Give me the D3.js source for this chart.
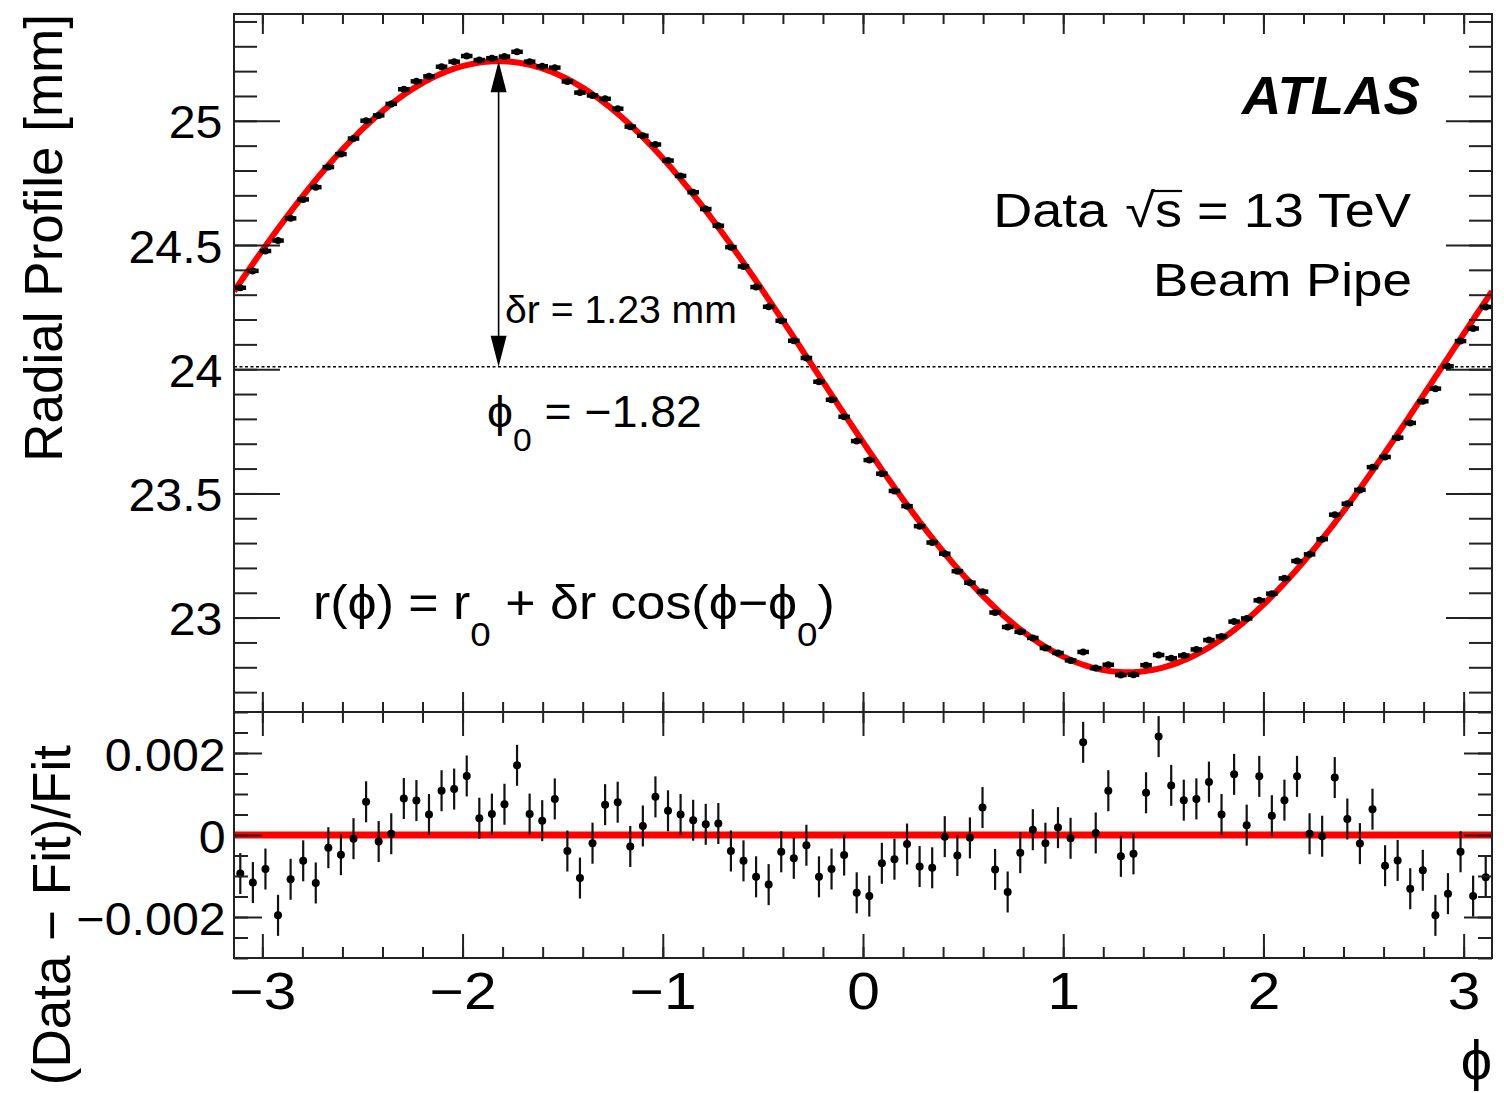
<!DOCTYPE html>
<html>
<head>
<meta charset="utf-8">
<script src="https://cdn.jsdelivr.net/npm/d3@7"></script>
<style>
  html, body { margin: 0; padding: 0; background: #fff; }
  svg { display: block; font-family: "Liberation Sans", Arial, Helvetica, sans-serif; }
</style>
</head>
<body>
<div id="chart"></div>
<script>
// (Data - Fit)/Fit per phi bin (100 bins over [-pi, pi])
const residuals = [
  -0.00094, -0.00116, -0.00083, -0.00196, -0.00108, -0.00063, -0.00117, -0.00031, -0.00048, -0.00009,
   0.00081, -0.00016,  0.00003,  0.00089,  0.00084,  0.00050,  0.00108,  0.00112,  0.00144,  0.00041,
   0.00051,  0.00075,  0.00170,  0.00051,  0.00035,  0.00088, -0.00039, -0.00105, -0.00020,  0.00074,
   0.00080, -0.00028,  0.00022,  0.00093,  0.00059,  0.00050,  0.00036,  0.00026,  0.00028, -0.00039,
  -0.00063, -0.00102, -0.00121, -0.00041, -0.00057, -0.00025, -0.00102, -0.00083, -0.00049, -0.00141,
  -0.00149, -0.00069, -0.00059, -0.00022, -0.00077, -0.00080, -0.00004, -0.00050, -0.00007,  0.00067,
  -0.00084, -0.00139, -0.00043,  0.00013, -0.00020,  0.00018, -0.00008,  0.00226,  0.00005,  0.00108,
  -0.00052, -0.00046,  0.00103,  0.00240,  0.00121,  0.00085,  0.00088,  0.00129,  0.00050,  0.00148,
   0.00024,  0.00143,  0.00047,  0.00085,  0.00143,  0.00003, -0.00003,  0.00140,  0.00039, -0.00021,
   0.00063, -0.00075, -0.00062, -0.00131, -0.00086, -0.00196, -0.00143, -0.00041, -0.00149, -0.00103
];
const residualError = 0.0005;

// fit r(phi) = r0 + dr cos(phi - phi0)
const fitR0 = 24.01;
const fitDr = 1.23;
const fitPhi0 = -1.82;

const xTicks = [-3, -2, -1, 0, 1, 2, 3];
const yTopTicks = [23, 23.5, 24, 24.5, 25];
const yBotTicks = [-0.002, 0, 0.002];

const W = 1504, H = 1093;
const frame = { left: 234, right: 1492, top: 14, mid: 712, bottom: 958 };

const svg = d3.select('#chart').append('svg')
    .attr('width', W)
    .attr('height', H);

// scales
const x = d3.scaleLinear().domain([-Math.PI, Math.PI]).range([frame.left, frame.right]);
const yTop = d3.scaleLinear().domain([22.62, 25.43]).range([frame.mid, frame.top]);
const yBot = d3.scaleLinear().domain([-0.003, 0.003]).range([frame.bottom, frame.mid]);

const fit = phi => fitR0 + fitDr * Math.cos(phi - fitPhi0);
const binWidth = 2 * Math.PI / residuals.length;

// profile = Fit * (1 + residual), which is what the lower panel shows
const bins = residuals.map((r, i) => {
    const phi = -Math.PI + (i + 0.5) * binWidth;
    return { phi: phi, res: r, value: fit(phi) * (1 + r) };
});

const minorX = d3.range(-15, 16).map(i => i * 0.2);
const minorTop = d3.range(227, 255).map(i => i / 10);
const minorBot = d3.range(-6, 7).map(i => i * 0.0005);

// clip paths for the two pads
const defs = svg.append('defs');
defs.append('clipPath').attr('id', 'clipTop').append('rect')
    .attr('x', frame.left).attr('y', frame.top)
    .attr('width', frame.right - frame.left).attr('height', frame.mid - frame.top);
defs.append('clipPath').attr('id', 'clipBot').append('rect')
    .attr('x', frame.left).attr('y', frame.mid)
    .attr('width', frame.right - frame.left).attr('height', frame.bottom - frame.mid);

// ---------- top pad ----------
const topG = svg.append('g').attr('clip-path', 'url(#clipTop)');

// dashed line at r0
topG.append('line')
    .attr('x1', frame.left).attr('x2', frame.right)
    .attr('y1', yTop(fitR0)).attr('y2', yTop(fitR0))
    .attr('stroke', '#000').attr('stroke-width', 1.3)
    .attr('stroke-dasharray', '3,2.5');

// fit curve
const curve = d3.range(0, 601).map(i => -Math.PI + i * 2 * Math.PI / 600);
topG.append('path')
    .datum(curve)
    .attr('fill', 'none')
    .attr('stroke', '#ff0000')
    .attr('stroke-width', 6)
    .attr('d', d3.line().x(p => x(p)).y(p => yTop(fit(p))));

// data markers
const marks = topG.append('g').selectAll('g').data(bins).join('g');
marks.append('line')
    .attr('x1', d => x(d.phi - binWidth / 2) + 0.5)
    .attr('x2', d => x(d.phi + binWidth / 2) - 0.5)
    .attr('y1', d => yTop(d.value)).attr('y2', d => yTop(d.value))
    .attr('stroke', '#000').attr('stroke-width', 4.5);
marks.append('circle')
    .attr('cx', d => x(d.phi)).attr('cy', d => yTop(d.value))
    .attr('r', 3.5).attr('fill', '#000');

// arrow for delta r
const arrowX = x(fitPhi0);
const arrowTop = yTop(fitR0 + fitDr);
const arrowBot = yTop(fitR0);
svg.append('line')
    .attr('x1', arrowX).attr('x2', arrowX)
    .attr('y1', arrowTop + 20).attr('y2', arrowBot - 20)
    .attr('stroke', '#000').attr('stroke-width', 1.6);
svg.append('path')
    .attr('d', `M${arrowX},${arrowTop} L${arrowX - 8},${arrowTop + 31} L${arrowX + 8},${arrowTop + 31} Z`)
    .attr('fill', '#000');
svg.append('path')
    .attr('d', `M${arrowX},${arrowBot} L${arrowX - 8},${arrowBot - 31} L${arrowX + 8},${arrowBot - 31} Z`)
    .attr('fill', '#000');

// ---------- bottom pad ----------
const botG = svg.append('g').attr('clip-path', 'url(#clipBot)');

botG.append('line')
    .attr('x1', frame.left).attr('x2', frame.right)
    .attr('y1', yBot(0)).attr('y2', yBot(0))
    .attr('stroke', '#ff0000').attr('stroke-width', 7);

const rmarks = botG.append('g').selectAll('g').data(bins).join('g');
rmarks.append('line')
    .attr('x1', d => x(d.phi)).attr('x2', d => x(d.phi))
    .attr('y1', d => yBot(d.res - residualError))
    .attr('y2', d => yBot(d.res + residualError))
    .attr('stroke', '#111').attr('stroke-width', 2.2);
rmarks.append('circle')
    .attr('cx', d => x(d.phi)).attr('cy', d => yBot(d.res))
    .attr('r', 4).attr('fill', '#000');

// ---------- frames and ticks ----------
function ticks(axisFn, scale, values, size, transform, fmt, pad) {
    const axis = axisFn(scale)
        .tickValues(values)
        .tickSize(-size)
        .tickPadding(pad || 0)
        .tickFormat(fmt || (() => ''));
    const g = svg.append('g').attr('transform', transform).call(axis);
    g.select('.domain').remove();
    g.selectAll('.tick line').attr('stroke', '#222').attr('stroke-width', 2);
    return g;
}

const inTop = v => v > 22.62 && v < 25.43;
const inX = v => v > -Math.PI && v < Math.PI;

// top pad
ticks(d3.axisLeft, yTop, minorTop.filter(inTop), 23, `translate(${frame.left},0)`);
ticks(d3.axisRight, yTop, minorTop.filter(inTop), 23, `translate(${frame.right},0)`);
ticks(d3.axisRight, yTop, yTopTicks, 46, `translate(${frame.right},0)`);
const yTopAxis = ticks(d3.axisLeft, yTop, yTopTicks, 46, `translate(${frame.left},0)`, d => String(d), 11);
ticks(d3.axisTop, x, minorX.filter(inX), 10, `translate(0,${frame.top})`);
ticks(d3.axisTop, x, xTicks, 20, `translate(0,${frame.top})`);
ticks(d3.axisBottom, x, minorX.filter(inX), 10, `translate(0,${frame.mid})`);
ticks(d3.axisBottom, x, xTicks, 20, `translate(0,${frame.mid})`);

// bottom pad
ticks(d3.axisLeft, yBot, minorBot, 14, `translate(${frame.left},0)`);
ticks(d3.axisRight, yBot, minorBot, 14, `translate(${frame.right},0)`);
ticks(d3.axisRight, yBot, yBotTicks, 28, `translate(${frame.right},0)`);
const yBotAxis = ticks(d3.axisLeft, yBot, yBotTicks, 28, `translate(${frame.left},0)`,
    d => d === 0 ? '0' : d3.format('.3f')(d), 8);
ticks(d3.axisTop, x, minorX.filter(inX), 11, `translate(0,${frame.mid})`);
ticks(d3.axisTop, x, xTicks, 24, `translate(0,${frame.mid})`);
ticks(d3.axisBottom, x, minorX.filter(inX), 11, `translate(0,${frame.bottom})`);
const xAxis = ticks(d3.axisBottom, x, xTicks, 24, `translate(0,${frame.bottom})`, d3.format('d'), 15);

[yTopAxis, yBotAxis].forEach(g => {
    g.selectAll('text')
        .attr('font-family', '"Liberation Sans", Arial, sans-serif')
        .attr('font-size', 46).attr('fill', '#000')
        .attr('dy', '0.37em')
        .attr('transform', 'scale(1.05,1)');
});
xAxis.selectAll('text')
    .attr('font-family', '"Liberation Sans", Arial, sans-serif')
    .attr('font-size', 51).attr('fill', '#000')
    .attr('dy', '0.71em')
    .attr('transform', 'scale(1.15,1)');

// frames
[[frame.top, frame.mid], [frame.mid, frame.bottom]].forEach(([t, b]) => {
    svg.append('rect')
        .attr('x', frame.left).attr('y', t)
        .attr('width', frame.right - frame.left).attr('height', b - t)
        .attr('fill', 'none').attr('stroke', '#222').attr('stroke-width', 2);
});

// ---------- texts ----------
function place(px, py, size, anchor) {
    return svg.append('text')
        .attr('transform', `translate(${px},${py})`)
        .attr('font-size', size)
        .attr('text-anchor', anchor || 'start')
        .attr('fill', '#000');
}
// stretch text horizontally to the measured width of the original
function fitWidth(t, w) {
    const bw = t.node().getBBox().width;
    t.attr('transform', `${t.attr('transform')} scale(${w / bw},1)`);
}

const atlas = place(1420, 114, 53, 'end')
    .attr('font-weight', 'bold').attr('font-style', 'italic')
    .text('ATLAS');
fitWidth(atlas, 180);

const energy = place(1411, 227, 48, 'end');
energy.append('tspan').text('Data');
energy.append('tspan').attr('dx', 16).text('√');
energy.append('tspan').text('s');
energy.append('tspan').text(' = 13 TeV');
fitWidth(energy, 418);
// bar of the square root over "s" (chars 4 and 5)
const rootBox = energy.node().getExtentOfChar(4);
const sBox = energy.node().getExtentOfChar(5);
svg.append('line')
    .attr('transform', energy.attr('transform'))
    .attr('x1', rootBox.x + rootBox.width - 2).attr('x2', sBox.x + sBox.width)
    .attr('y1', -36).attr('y2', -36)
    .attr('stroke', '#000').attr('stroke-width', 2.2);

const pipe = place(1412, 296, 46, 'end').text('Beam Pipe');
fitWidth(pipe, 259);

const drText = place(505, 323, 38).text('δr = 1.23 mm');
fitWidth(drText, 232);

const phiText = place(487, 427, 44);
phiText.append('tspan').text('ϕ');
phiText.append('tspan').attr('font-size', 32).attr('dy', 24).text('0');
phiText.append('tspan').attr('dy', -24).text(' = −1.82');
fitWidth(phiText, 215);

const formula = place(313, 619, 48);
formula.append('tspan').text('r(ϕ) = r');
formula.append('tspan').attr('font-size', 34).attr('dy', 27).text('0');
formula.append('tspan').attr('dy', -27).text(' + δr cos(ϕ−ϕ');
formula.append('tspan').attr('font-size', 34).attr('dy', 27).text('0');
formula.append('tspan').attr('dy', -27).text(')');
fitWidth(formula, 522);

// axis titles
svg.append('text')
    .attr('transform', 'translate(62,14) rotate(-90)')
    .attr('text-anchor', 'end')
    .attr('font-size', 53)
    .text('Radial Profile [mm]');
svg.append('text')
    .attr('transform', 'translate(70,745) rotate(-90)')
    .attr('text-anchor', 'end')
    .attr('font-size', 53)
    .text('(Data − Fit)/Fit');
svg.append('text')
    .attr('transform', 'translate(1492,1079)')
    .attr('text-anchor', 'end')
    .attr('font-size', 56)
    .text('ϕ');
</script>
</body>
</html>
